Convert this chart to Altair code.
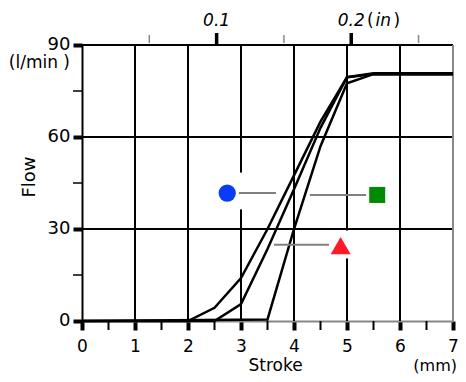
import altair as alt
import pandas as pd

# ---- data ----
curve_a_x = [0, 2, 2.5, 3, 3.5, 4, 4.5, 5, 5.5, 7]
curve_a_y = [0, 0, 4.3, 14, 30, 47.5, 65, 79.5, 80.8, 80.8]
curve_b_x = [0, 2.5, 3, 3.5, 4, 4.5, 5, 5.5, 7]
curve_b_y = [0, 0, 5.5, 23.5, 43, 63, 79.5, 80.5, 80.5]
curve_c_x = [0, 3.5, 4, 4.5, 5, 5.5, 7]
curve_c_y = [0, 0.5, 30, 57, 77.5, 80.5, 80.5]

x_ticks = [0, 1, 2, 3, 4, 5, 6, 7]
x_minor = [0.5, 1.5, 2.5, 3.5, 4.5, 5.5, 6.5]
y_ticks = [0, 30, 60, 90]
y_minor = [15, 45, 75]
inch_major_mm = [2.54, 5.08]
inch_major_lbl = ["0.1", "0.2"]
inch_minor_mm = [1.27, 3.81, 6.35]

marker_shape = ["circle", "square", "triangle-up"]
marker_color = ["#0a3cf5", "#008a00", "#ff1a2a"]
marker_size = [300, 256, 400]
marker_x = [2.74, 5.57, 4.88]
marker_y = [41.7, 41.1, 24.6]
leader_x1 = [2.96, 4.30, 3.62]
leader_x2 = [3.66, 5.36, 4.66]
leader_y = [41.7, 41.1, 24.9]

grid_gap_x = [3, 5]
grid_gap_y1 = [36.4, 20.4]
grid_gap_y2 = [48.4, 29.5]

W, H = 371, 276
FONT = "DejaVu Sans"

xs = alt.Scale(domain=[0, 7], nice=False, zero=False)
ys = alt.Scale(domain=[0, 90], nice=False)
xaxis = alt.Axis(values=x_ticks, labelFont=FONT, labelFontSize=17, labelColor="black",
                 tickSize=9, tickWidth=4, tickColor="black", domainColor="#888888",
                 domainWidth=2, labelPadding=8, grid=False, title=None, labelFlush=False)
yaxis = alt.Axis(values=y_ticks, labelFont=FONT, labelFontSize=18, labelColor="black",
                 tickSize=9, tickWidth=4, tickColor="black", domainColor="black",
                 domainWidth=2, labelPadding=3, grid=False, title=None, labelFlush=False,
                 labelOffset=-1)


def X(f="x"):
    return alt.X(f, type="quantitative", scale=xs, axis=xaxis)


def Y(f="y"):
    return alt.Y(f, type="quantitative", scale=ys, axis=yaxis)


rows = []
for name, xx, yy in [("A", curve_a_x, curve_a_y), ("B", curve_b_x, curve_b_y), ("C", curve_c_x, curve_c_y)]:
    for i, (a, b) in enumerate(zip(xx, yy)):
        rows.append({"series": name, "x": a, "y": b, "o": i})
curves_df = pd.DataFrame(rows)

vgrid = alt.Chart(pd.DataFrame({"x": x_ticks[1:-1]})).mark_rule(color="black", strokeWidth=2).encode(
    x=X(), y=alt.value(0), y2=alt.value(H))
hgrid = alt.Chart(pd.DataFrame({"y": [30, 60]})).mark_rule(color="black", strokeWidth=2).encode(
    y=Y(), x=alt.value(0), x2=alt.value(W))
topb = alt.Chart(pd.DataFrame({"y": [90]})).mark_rule(color="black", strokeWidth=2).encode(
    y=Y(), x=alt.value(0), x2=alt.value(W))
rightb = alt.Chart(pd.DataFrame({"x": [7]})).mark_rule(color="#888888", strokeWidth=2).encode(
    x=X(), y=alt.value(0), y2=alt.value(H))
gaps = alt.Chart(pd.DataFrame({"x": grid_gap_x, "y": grid_gap_y1, "y2": grid_gap_y2})).mark_rule(
    color="white", strokeWidth=5).encode(x=X(), y=Y(), y2="y2:Q")

xminor = alt.Chart(pd.DataFrame({"x": x_minor})).mark_rule(color="black", strokeWidth=2).encode(
    x=X(), y=alt.value(H), y2=alt.value(H + 9))
yminor = alt.Chart(pd.DataFrame({"y": y_minor})).mark_rule(color="black", strokeWidth=1.5).encode(
    y=Y(), x=alt.value(-9), x2=alt.value(0))
tmin = alt.Chart(pd.DataFrame({"x": inch_minor_mm})).mark_rule(color="#888888", strokeWidth=1.5).encode(
    x=X(), y=alt.value(-10), y2=alt.value(-2))
tmaj = alt.Chart(pd.DataFrame({"x": inch_major_mm})).mark_rule(color="black", strokeWidth=3.5).encode(
    x=X(), y=alt.value(-12), y2=alt.value(-1))
tlab = alt.Chart(pd.DataFrame({"x": inch_major_mm, "t": inch_major_lbl})).mark_text(
    font=FONT, fontSize=17, fontStyle="italic", color="black", baseline="middle", align="center").encode(
    x=X(), y=alt.value(-24), text="t:N")

lines = alt.Chart(curves_df).mark_line(color="black", strokeWidth=2.5).encode(
    x=X(), y=Y(), detail="series:N", order="o:Q")

lead_df = pd.DataFrame({"x": leader_x1, "x2": leader_x2, "y": leader_y})
leaders = alt.Chart(lead_df).mark_rule(color="#808080", strokeWidth=2).encode(
    x=X(), x2="x2:Q", y=Y())

mk_df = pd.DataFrame({"x": marker_x, "y": marker_y, "shape": marker_shape,
                      "color": marker_color, "size": marker_size})
markers = alt.Chart(mk_df).mark_point(filled=True, opacity=1).encode(
    x=X(), y=Y(),
    shape=alt.Shape("shape:N", scale=None),
    color=alt.Color("color:N", scale=None),
    size=alt.Size("size:Q", scale=None))


def txt(s, x, y, size=17, align="center", style="normal", angle=0, baseline="middle"):
    return alt.Chart(pd.DataFrame({"t": [s]})).mark_text(
        font=FONT, fontSize=size, fontStyle=style, color="black", align=align, baseline=baseline,
        angle=angle).encode(x=alt.value(x), y=alt.value(y), text="t:N")


texts = [
    txt("(", 285, -24, align="left"),
    txt("in", 293.5, -24, align="left", style="italic"),
    txt(")", 311.5, -24, align="left"),
    txt("(l/min )", -12, 18, align="right"),
    txt("Flow", -52, 132, size=18, angle=270),
    txt("Stroke", 193.5, 326, size=17, baseline="alphabetic"),
    txt("(mm)", 375, 326, size=16, align="right", baseline="alphabetic"),
]

chart = alt.layer(
    vgrid, hgrid, topb, rightb, gaps, xminor, yminor, tmin, tmaj, tlab,
    lines, leaders, markers, *texts
).properties(
    width=W, height=H,
    autosize=alt.AutoSizeParams(type="none"),
    padding={"left": 74, "top": 37, "right": 5, "bottom": 53},
    background="white",
).configure_view(strokeWidth=0)

chart.save("out.html", embed_options={"renderer": "svg", "actions": False})
